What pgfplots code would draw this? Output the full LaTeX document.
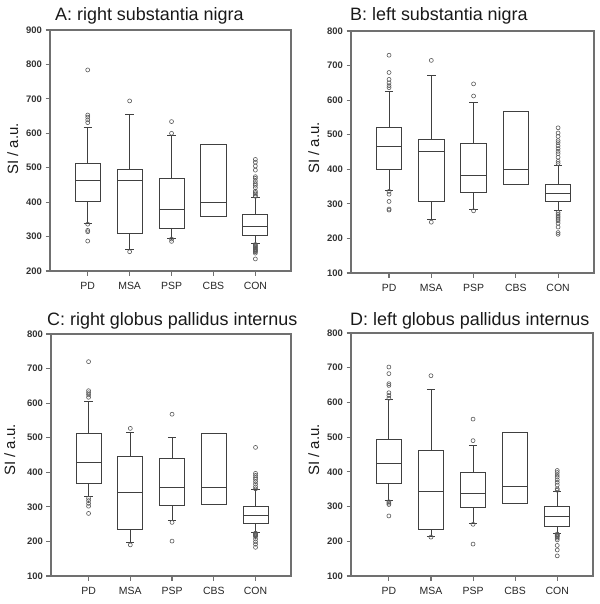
\documentclass[border=0pt]{standalone}
\usepackage{pgfplots}
\pgfplotsset{compat=1.18}
\usepgfplotslibrary{statistics}
\usepackage{fontspec}
\setmainfont{Liberation Sans}

\definecolor{framecol}{HTML}{707070}
\definecolor{boxcol}{HTML}{404040}
\definecolor{outcol}{HTML}{5A5A5A}

\pgfplotsset{
  panel/.style={
    scale only axis,
    boxplot/draw direction=y,
    xmin=0.1, xmax=5.85,
    xtick={1,2,3,4,5},
    xticklabels={PD,MSA,PSP,CBS,CON},
    xtick pos=bottom, ytick pos=left,
    tick align=outside,
    major tick length=4.5bp,
    axis line style={framecol, line width=1.1bp},
    tick style={framecol, line width=1.1bp},
    xticklabel style={font=\fontsize{10.5}{11}\selectfont, text=black!85, yshift=-3bp},
    yticklabel style={font=\fontsize{9.5}{10}\selectfont\bfseries, text=black!80},
    /pgf/number format/assume math mode=true,
  },
  bx/.style={draw=boxcol, line width=0.9bp, solid,
    mark=o, mark size=2bp,
    mark options={draw=outcol, line width=0.6bp, fill=none, solid}},
}

\begin{document}
\begin{tikzpicture}
\path[use as bounding box] (0,0) rectangle (600bp,-604bp);

% ---- A: right substantia nigra
\begin{axis}[panel, at={(50bp,-271bp)}, anchor=south west,
  width=241bp, height=241bp, ymin=200, ymax=900, ytick={200,300,...,900}]
\addplot[bx, boxplot prepared={draw position=1, median=462, upper quartile=513,
  lower quartile=401, upper whisker=617, lower whisker=338, box extend=0.6, whisker extend=0.2}]
  table[row sep=\\, y index=0] {v\\ 784\\ 653\\ 647\\ 639\\ 631\\ 336\\ 318\\ 314\\ 287\\};
\addplot[bx, boxplot prepared={draw position=2, median=463, upper quartile=495,
  lower quartile=309, upper whisker=656, lower whisker=262, box extend=0.6, whisker extend=0.2}]
  table[row sep=\\, y index=0] {v\\ 694\\ 256\\};
\addplot[bx, boxplot prepared={draw position=3, median=378, upper quartile=469,
  lower quartile=325, upper whisker=593, lower whisker=296, box extend=0.6, whisker extend=0.2}]
  table[row sep=\\, y index=0] {v\\ 634\\ 600\\ 293\\ 286\\};
\addplot[bx, boxplot prepared={draw position=4, median=398, upper quartile=567,
  lower quartile=358, upper whisker=567, lower whisker=358, box extend=0.6, whisker extend=0.2}]
  coordinates {};
\addplot[bx, boxplot prepared={draw position=5, median=330, upper quartile=363,
  lower quartile=304, upper whisker=414, lower whisker=280, box extend=0.6, whisker extend=0.2}]
  table[row sep=\\, y index=0] {v\\ 524\\ 516\\ 505\\ 493\\ 474\\ 469\\ 461\\ 454\\
    449\\ 442\\ 432\\ 428\\ 424\\ 419\\ 417\\
    277\\ 274\\ 272\\ 269\\ 267\\ 264\\ 262\\ 260\\ 258\\ 256\\ 252\\ 235\\};
\end{axis}

% ---- B: left substantia nigra
\begin{axis}[panel, at={(351bp,-273bp)}, anchor=south west,
  width=243bp, height=242bp, ymin=100, ymax=800, ytick={100,200,...,800}]
\addplot[bx, boxplot prepared={draw position=1, median=466, upper quartile=520,
  lower quartile=400, upper whisker=626, lower whisker=338, box extend=0.6, whisker extend=0.2}]
  table[row sep=\\, y index=0] {v\\ 730\\ 680\\ 660\\ 650\\ 642\\ 636\\
    336\\ 328\\ 307\\ 285\\ 282\\};
\addplot[bx, boxplot prepared={draw position=2, median=451, upper quartile=487,
  lower quartile=307, upper whisker=671, lower whisker=256, box extend=0.6, whisker extend=0.2}]
  table[row sep=\\, y index=0] {v\\ 715\\ 247\\};
\addplot[bx, boxplot prepared={draw position=3, median=381, upper quartile=476,
  lower quartile=333, upper whisker=592, lower whisker=283, box extend=0.6, whisker extend=0.2}]
  table[row sep=\\, y index=0] {v\\ 647\\ 612\\ 280\\};
\addplot[bx, boxplot prepared={draw position=4, median=400, upper quartile=567,
  lower quartile=355, upper whisker=567, lower whisker=355, box extend=0.6, whisker extend=0.2}]
  coordinates {};
\addplot[bx, boxplot prepared={draw position=5, median=331, upper quartile=357,
  lower quartile=307, upper whisker=411, lower whisker=280, box extend=0.6, whisker extend=0.2}]
  table[row sep=\\, y index=0] {v\\ 520\\ 505\\ 495\\ 483\\ 477\\ 468\\ 460\\ 452\\
    445\\ 435\\ 423\\ 417\\
    275\\ 270\\ 265\\ 261\\ 256\\ 251\\ 244\\ 233\\ 217\\ 212\\};
\end{axis}

% ---- C: right globus pallidus internus
\begin{axis}[panel, at={(51bp,-576bp)}, anchor=south west,
  width=240bp, height=242bp, ymin=100, ymax=800, ytick={100,200,...,800}]
\addplot[bx, boxplot prepared={draw position=1, median=429, upper quartile=511,
  lower quartile=368, upper whisker=606, lower whisker=329, box extend=0.6, whisker extend=0.2}]
  table[row sep=\\, y index=0] {v\\ 720\\ 636\\ 630\\ 624\\ 617\\
    325\\ 318\\ 310\\ 302\\ 281\\};
\addplot[bx, boxplot prepared={draw position=2, median=343, upper quartile=447,
  lower quartile=235, upper whisker=516, lower whisker=198, box extend=0.6, whisker extend=0.2}]
  table[row sep=\\, y index=0] {v\\ 527\\ 190\\};
\addplot[bx, boxplot prepared={draw position=3, median=357, upper quartile=441,
  lower quartile=303, upper whisker=500, lower whisker=261, box extend=0.6, whisker extend=0.2}]
  table[row sep=\\, y index=0] {v\\ 568\\ 255\\ 201\\};
\addplot[bx, boxplot prepared={draw position=4, median=355, upper quartile=512,
  lower quartile=307, upper whisker=512, lower whisker=307, box extend=0.6, whisker extend=0.2}]
  coordinates {};
\addplot[bx, boxplot prepared={draw position=5, median=274, upper quartile=302,
  lower quartile=251, upper whisker=349, lower whisker=226, box extend=0.6, whisker extend=0.2}]
  table[row sep=\\, y index=0] {v\\ 472\\ 397\\ 391\\ 385\\ 380\\ 373\\ 366\\ 358\\ 352\\
    224\\ 222\\ 220\\ 219\\ 217\\ 214\\ 207\\ 199\\ 192\\ 183\\};
\end{axis}

% ---- D: left globus pallidus internus
\begin{axis}[panel, at={(351bp,-576bp)}, anchor=south west,
  width=242bp, height=243bp, ymin=100, ymax=800, ytick={100,200,...,800}]
\addplot[bx, boxplot prepared={draw position=1, median=424, upper quartile=492,
  lower quartile=368, upper whisker=608, lower whisker=317, box extend=0.6, whisker extend=0.2}]
  table[row sep=\\, y index=0] {v\\ 702\\ 683\\ 654\\ 649\\ 628\\ 620\\ 612\\
    314\\ 310\\ 306\\ 273\\};
\addplot[bx, boxplot prepared={draw position=2, median=344, upper quartile=462,
  lower quartile=234, upper whisker=637, lower whisker=213, box extend=0.6, whisker extend=0.2}]
  table[row sep=\\, y index=0] {v\\ 677\\ 212\\};
\addplot[bx, boxplot prepared={draw position=3, median=338, upper quartile=397,
  lower quartile=298, upper whisker=476, lower whisker=250, box extend=0.6, whisker extend=0.2}]
  table[row sep=\\, y index=0] {v\\ 552\\ 490\\ 249\\ 192\\};
\addplot[bx, boxplot prepared={draw position=4, median=357, upper quartile=513,
  lower quartile=308, upper whisker=513, lower whisker=308, box extend=0.6, whisker extend=0.2}]
  coordinates {};
\addplot[bx, boxplot prepared={draw position=5, median=272, upper quartile=299,
  lower quartile=243, upper whisker=344, lower whisker=223, box extend=0.6, whisker extend=0.2}]
  table[row sep=\\, y index=0] {v\\ 404\\ 398\\ 391\\ 385\\ 377\\ 370\\ 362\\ 351\\ 347\\
    221\\ 219\\ 217\\ 215\\ 213\\ 209\\ 204\\ 188\\ 175\\ 158\\};
\end{axis}

% titles and y labels
\begin{scope}[every node/.style={inner sep=0pt, text=black!90}]
\node[anchor=base west, font=\fontsize{18}{19}\selectfont] at (55bp,-20bp) {A: right substantia nigra};
\node[anchor=base west, font=\fontsize{18}{19}\selectfont] at (350bp,-20bp) {B: left substantia nigra};
\node[anchor=base west, font=\fontsize{18}{19}\selectfont] at (47bp,-325bp) {C: right globus pallidus internus};
\node[anchor=base west, font=\fontsize{18}{19}\selectfont] at (350bp,-325bp) {D: left globus pallidus internus};
\node[rotate=90, anchor=base, font=\fontsize{15}{16}\selectfont] at (18bp,-149bp) {SI / a.u.};
\node[rotate=90, anchor=base, font=\fontsize{15}{16}\selectfont] at (319bp,-148bp) {SI / a.u.};
\node[rotate=90, anchor=base, font=\fontsize{15}{16}\selectfont] at (15bp,-450bp) {SI / a.u.};
\node[rotate=90, anchor=base, font=\fontsize{15}{16}\selectfont] at (319bp,-450bp) {SI / a.u.};
\end{scope}
\end{tikzpicture}
\end{document}
